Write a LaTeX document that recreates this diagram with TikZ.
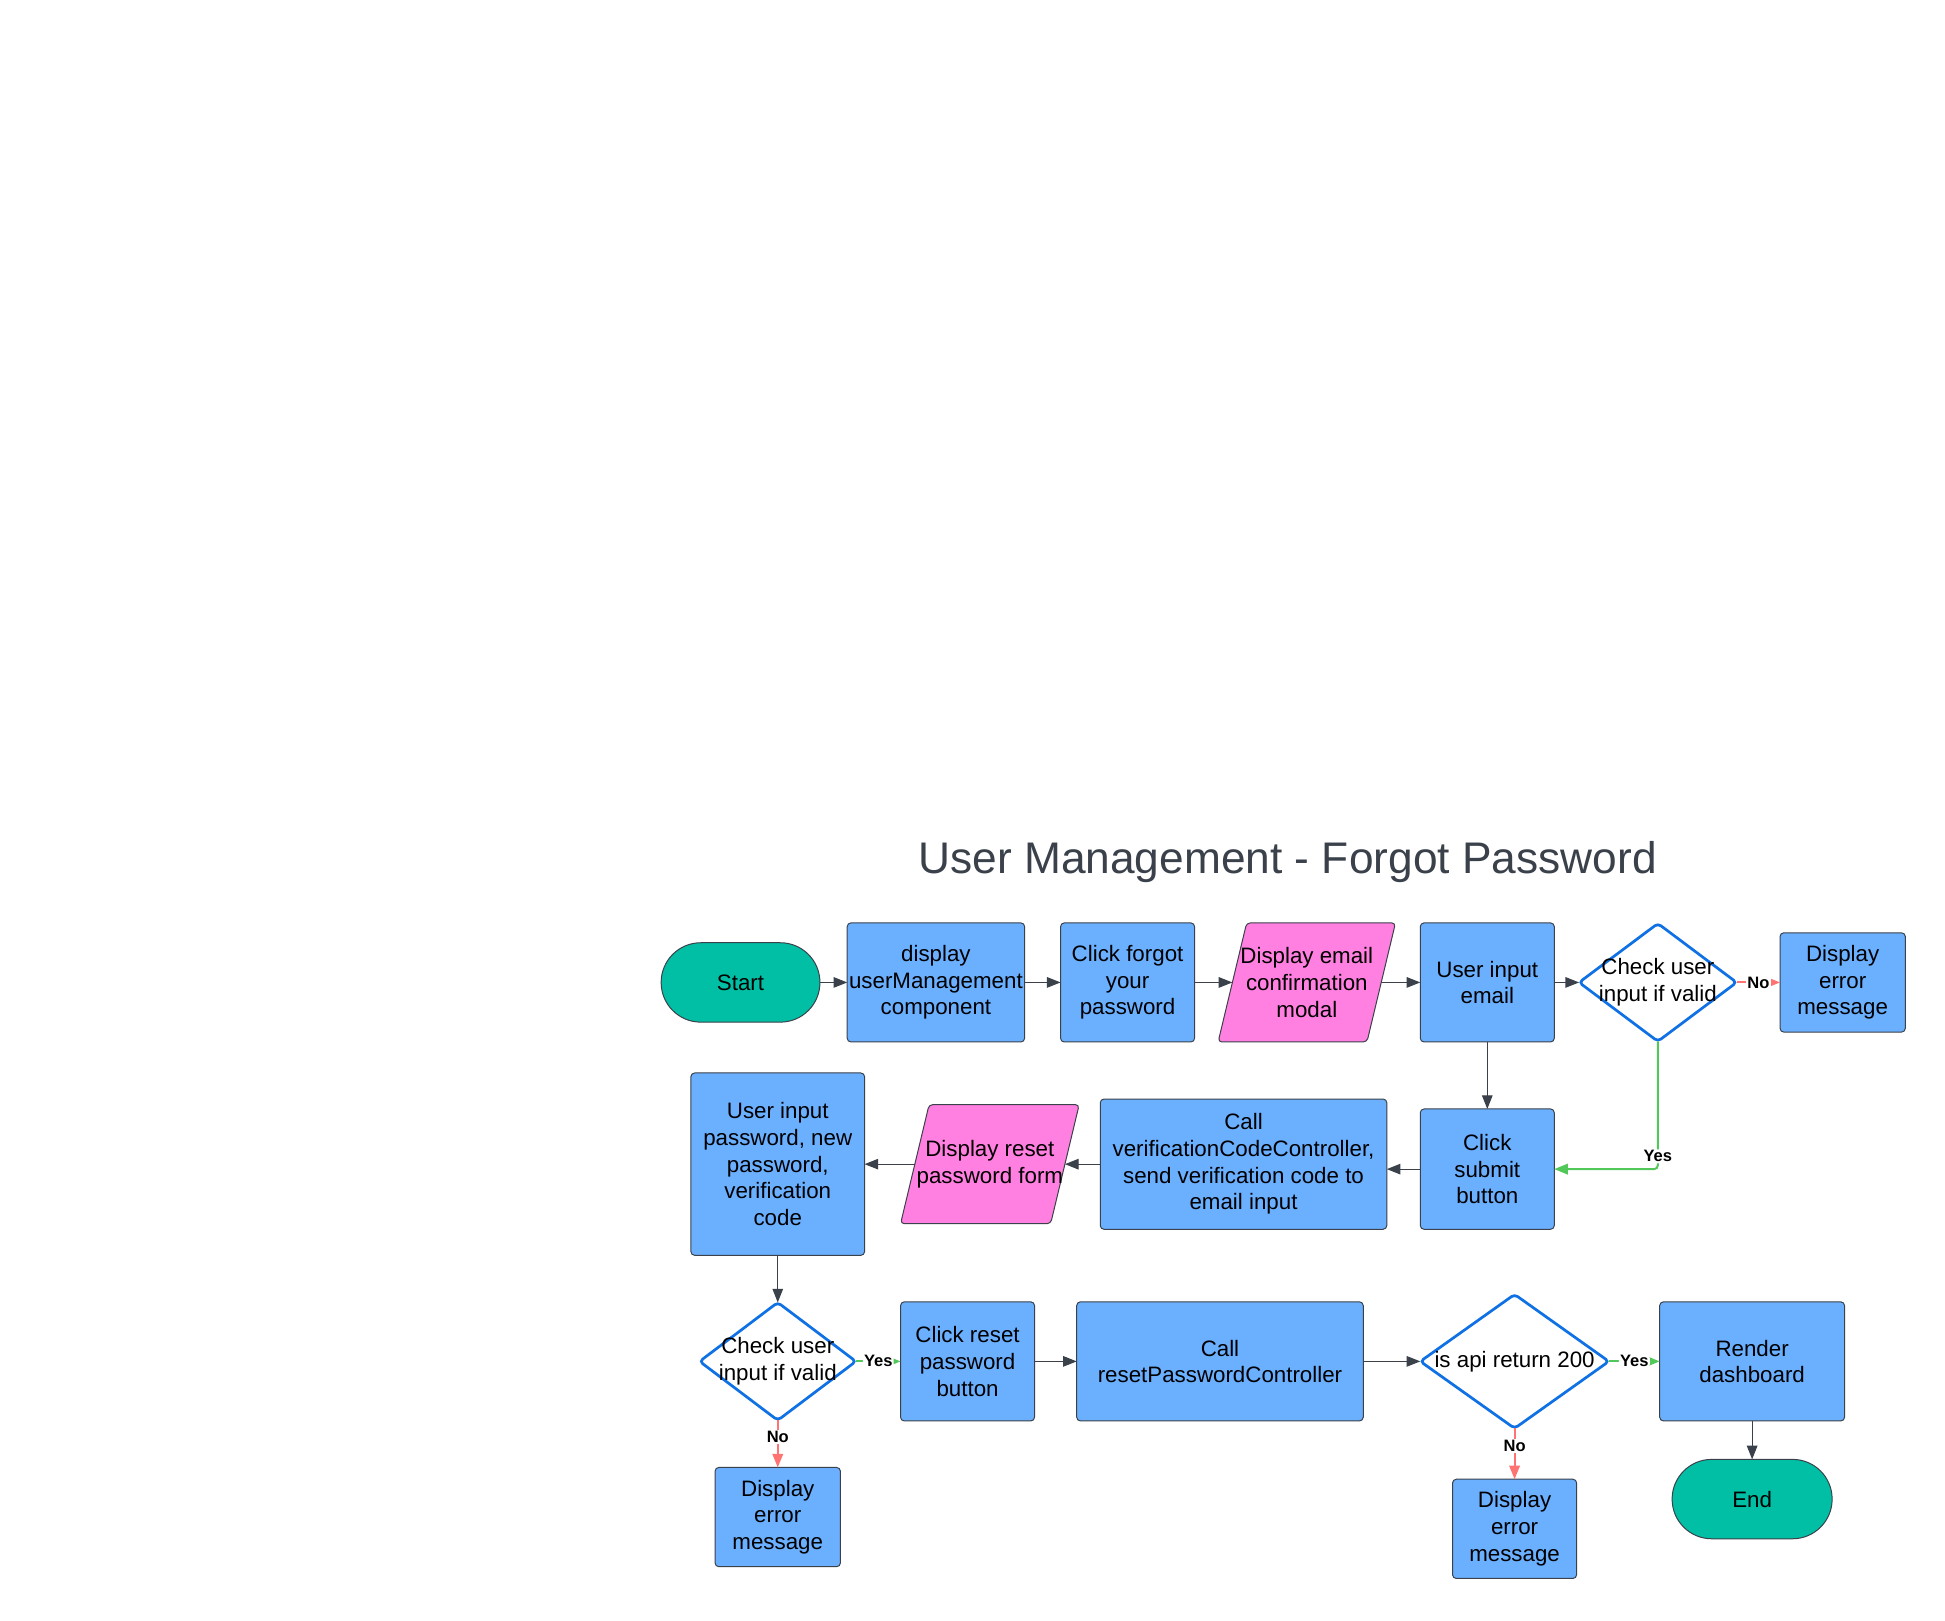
\documentclass[tikz,border=0pt]{standalone}
\usepackage{fontspec}
\setmainfont{Liberation Sans}
\usepackage{xcolor}
\usepackage{tikz}
\usetikzlibrary{shapes.geometric, arrows.meta, positioning, calc, backgrounds}

\definecolor{boxblue}{HTML}{6BAFFF}
\definecolor{iopink}{HTML}{FF80E0}
\definecolor{termteal}{HTML}{00BFA5}
\definecolor{decblue}{HTML}{1071E5}
\definecolor{linegray}{HTML}{3A414A}
\definecolor{yesgreen}{HTML}{52C75A}
\definecolor{nored}{HTML}{FF7373}

\begin{document}
\begin{tikzpicture}[
    x=1pt, y=-1pt,
    every node/.style={font=\fontsize{18}{21.5}\selectfont, align=center, inner sep=0pt, outer sep=0pt},
    process/.style={rectangle, draw=linegray, line width=0.8pt, fill=boxblue, rounded corners=3pt, minimum width=108pt, minimum height=96pt},
    io/.style={rectangle, minimum width=120pt, minimum height=96pt},
    iofill/.style={draw=linegray, line width=0.8pt, fill=iopink, rounded corners=3pt},
    terminal/.style={rectangle, draw=linegray, line width=0.8pt, fill=termteal, rounded corners=31.9pt, minimum width=128pt, minimum height=64pt},
    decision/.style={diamond, draw=decblue, line width=2.2pt, fill=white, rounded corners=3pt, minimum width=127pt, minimum height=95pt},
    arrow/.style={-{Triangle[length=11pt, width=8.5pt]}, draw=linegray, line width=0.9pt},
    yesarrow/.style={arrow, draw=yesgreen, line width=1.6pt, rounded corners=3pt},
    noarrow/.style={arrow, draw=nored, line width=1.6pt},
    lbl/.style={fill=white, inner sep=1pt, font=\fontsize{13.3}{15}\selectfont\bfseries},
    title/.style={font=\fontsize{35.7}{43}\selectfont, text=linegray}
]
\useasboundingbox (0,0) rectangle (1568,1306);

\node[title] (title) at (1038,695) {User Management - Forgot Password};

% Email step
\node[terminal] (start) at (597,792) {Start};
\node[process, minimum width=143pt, right=22pt of start] (disp) {display\\userManagement\\component};
\node[process, right=29pt of disp] (forgot) {Click forgot\\your\\password};
\node[io, right=30.5pt of forgot] (modal) {Display email\\confirmation\\modal};
\node[process, right=31.5pt of modal] (email) {User input\\email};
\node[decision, right=20pt of email, label={center:Check user\\input if valid}] (chk1) {};
\node[process, minimum width=101pt, minimum height=80pt, right=35pt of chk1] (err1) {Display\\error\\message};

\draw[arrow] (start) -- (disp);
\draw[arrow] (disp) -- (forgot);
\draw[arrow] (forgot) -- (modal);
\draw[arrow] (modal) -- (email);
\draw[arrow] (email) -- (chk1);
\draw[noarrow] (chk1) -- node[lbl] {No} (err1);

% Verification code
\node[process, minimum height=97pt, below=54pt of email] (submit) {Click\\submit\\button};
\node[process, minimum width=231pt, minimum height=105pt, left=27pt of submit, yshift=4pt] (verif) {Call\\verificationCodeController,\\send verification code to\\email input};
\node[io, minimum width=121pt, left=28.5pt of verif] (form) {Display reset\\password form};
\node[process, minimum width=140pt, minimum height=147pt, left=40.5pt of form] (userpw) {User input\\password, new\\password,\\verification\\code};

\draw[arrow] (email) -- (submit);
\draw[yesarrow] (chk1.south) |- node[lbl, pos=0.45] {Yes} (submit.east);
\draw[arrow] (submit.west) -- (submit.west -| verif.east);
\draw[arrow] (verif) -- (form);
\draw[arrow] (form) -- (userpw);

% Reset password
\node[decision, minimum width=126pt, below=38pt of userpw, label={center:Check user\\input if valid}] (chk2) {};
\node[process, right=36pt of chk2] (clickreset) {Click reset\\password\\button};
\node[process, minimum width=231pt, right=34pt of clickreset] (callreset) {Call\\resetPasswordController};
\node[decision, minimum width=152pt, minimum height=108pt, right=46pt of callreset, label={center:is api return 200}] (api) {};
\node[process, minimum width=149pt, right=41pt of api] (render) {Render\\dashboard};
\node[process, minimum width=101pt, minimum height=80pt, below=38pt of chk2] (err2) {Display\\error\\message};
\node[process, minimum width=100pt, minimum height=80pt, below=41pt of api] (err3) {Display\\error\\message};
\node[terminal, minimum width=129pt, below=31pt of render] (endn) {End};

\draw[arrow] (userpw) -- (chk2);
\draw[yesarrow] (chk2) -- node[lbl] {Yes} (clickreset);
\draw[noarrow] (chk2) -- node[lbl, pos=0.35] {No} (err2);
\draw[arrow] (clickreset) -- (callreset);
\draw[arrow] (callreset) -- (api);
\draw[yesarrow] (api) -- node[lbl] {Yes} (render);
\draw[noarrow] (api) -- node[lbl, pos=0.35] {No} (err3);
\draw[arrow] (render) -- (endn);

% parallelograms behind the io texts
\begin{scope}[on background layer]
\foreach \n in {modal, form}
    \draw[iofill] ([xshift=-11.5pt]\n.south west) -- ([xshift=11.5pt]\n.north west)
        -- ([xshift=11.5pt]\n.north east) -- ([xshift=-11.5pt]\n.south east) -- cycle;
\end{scope}

\end{tikzpicture}
\end{document}
